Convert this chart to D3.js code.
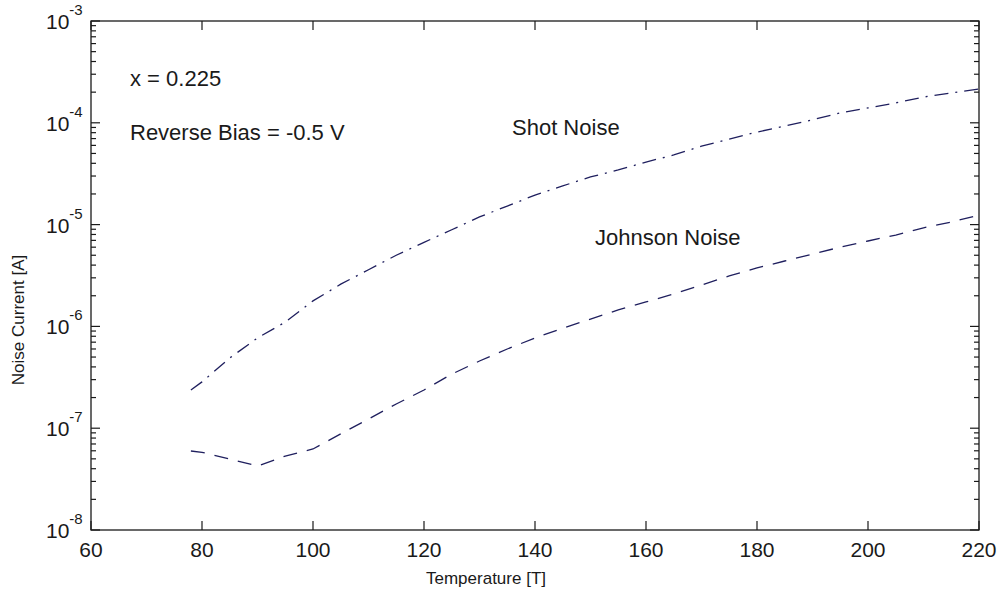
<!DOCTYPE html>
<html>
<head>
<meta charset="utf-8">
<script src="https://cdn.jsdelivr.net/npm/d3@7"></script>
<style>
  body { margin: 0; background: #fff; }
  text { font-family: "Liberation Sans", Arial, sans-serif; fill: #1a1a1a; }
</style>
</head>
<body>
<div id="chart"></div>
<script>
// temperature samples [T]
var temps = [78, 80, 85, 90, 95, 100, 105, 110, 115, 120, 125, 130, 135, 140, 145, 150,
             155, 160, 165, 170, 175, 180, 185, 190, 195, 200, 205, 210, 215, 220];
// noise current [A]
var shotNoise = [2.37e-7, 2.85e-7, 4.9e-7, 7.7e-7, 1.1e-6, 1.78e-6, 2.6e-6, 3.6e-6, 5.0e-6, 6.7e-6,
                 8.9e-6, 1.19e-5, 1.52e-5, 1.95e-5, 2.4e-5, 2.94e-5, 3.44e-5, 4.12e-5, 4.83e-5, 5.9e-5,
                 6.93e-5, 8.1e-5, 9.3e-5, 1.07e-4, 1.25e-4, 1.40e-4, 1.57e-4, 1.79e-4, 1.96e-4, 2.15e-4];
var johnsonNoise = [5.97e-8, 5.8e-8, 4.98e-8, 4.25e-8, 5.33e-8, 6.25e-8, 8.8e-8, 1.23e-7, 1.73e-7, 2.37e-7,
                    3.4e-7, 4.57e-7, 6.0e-7, 7.7e-7, 9.6e-7, 1.18e-6, 1.45e-6, 1.74e-6, 2.08e-6, 2.55e-6,
                    3.13e-6, 3.75e-6, 4.39e-6, 5.14e-6, 6.0e-6, 6.9e-6, 7.9e-6, 9.3e-6, 1.06e-5, 1.24e-5];
var xTicks = [60, 80, 100, 120, 140, 160, 180, 200, 220];
var yExponents = [-8, -7, -6, -5, -4, -3];

(function(){
  var W = 1005, H = 599;
  var pLeft = 91, pRight = 979, pTop = 21, pBottom = 530;
  var lineColor = '#1f1f5e';

  var svg = d3.select('#chart').append('svg').attr('width', W).attr('height', H);

  var x = d3.scaleLinear().domain([60, 220]).range([pLeft, pRight]);
  var y = d3.scaleLog().domain([1e-8, 1e-3]).range([pBottom, pTop]);

  // box
  svg.append('rect')
    .attr('x', pLeft).attr('y', pTop)
    .attr('width', pRight - pLeft).attr('height', pBottom - pTop)
    .attr('fill', 'none').attr('stroke', '#1a1a1a').attr('stroke-width', 1.3);

  // x ticks, inward on bottom and top
  var tickG = svg.append('g').attr('stroke', '#1a1a1a').attr('stroke-width', 1.2);
  xTicks.forEach(function(t){
    tickG.append('line').attr('x1', x(t)).attr('x2', x(t)).attr('y1', pBottom).attr('y2', pBottom - 9);
    tickG.append('line').attr('x1', x(t)).attr('x2', x(t)).attr('y1', pTop).attr('y2', pTop + 9);
    svg.append('text').attr('x', x(t)).attr('y', pBottom + 27)
      .attr('text-anchor', 'middle').attr('font-size', 21).text(t);
  });

  // y ticks: decades and minors, inward on left and right
  yExponents.forEach(function(e, i){
    var v = Math.pow(10, e);
    tickG.append('line').attr('x1', pLeft).attr('x2', pLeft + 9).attr('y1', y(v)).attr('y2', y(v));
    tickG.append('line').attr('x1', pRight).attr('x2', pRight - 9).attr('y1', y(v)).attr('y2', y(v));
    if (i < yExponents.length - 1) {
      for (var m = 2; m <= 9; m++) {
        var mv = m * v;
        tickG.append('line').attr('x1', pLeft).attr('x2', pLeft + 5).attr('y1', y(mv)).attr('y2', y(mv));
        tickG.append('line').attr('x1', pRight).attr('x2', pRight - 5).attr('y1', y(mv)).attr('y2', y(mv));
      }
    }
    var lab = svg.append('text').attr('x', 46).attr('y', y(v) + 8).attr('font-size', 21);
    lab.append('tspan').text('10');
    lab.append('tspan').attr('dy', -14).attr('font-size', 15).text(e);
  });

  // curves
  var line = d3.line()
    .x(function(d){ return x(d[0]); })
    .y(function(d){ return y(d[1]); });

  svg.append('path')
    .datum(temps.map(function(t, i){ return [t, shotNoise[i]]; }))
    .attr('d', line)
    .attr('fill', 'none').attr('stroke', lineColor).attr('stroke-width', 1.3)
    .attr('stroke-dasharray', '14,7,2,7');

  svg.append('path')
    .datum(temps.map(function(t, i){ return [t, johnsonNoise[i]]; }))
    .attr('d', line)
    .attr('fill', 'none').attr('stroke', lineColor).attr('stroke-width', 1.3)
    .attr('stroke-dasharray', '14,10');

  // annotations
  svg.append('text').attr('x', 130).attr('y', 86).attr('font-size', 22).text('x = 0.225');
  svg.append('text').attr('x', 130).attr('y', 140).attr('font-size', 22).text('Reverse Bias = -0.5 V');
  svg.append('text').attr('x', 512).attr('y', 135).attr('font-size', 22).text('Shot Noise');
  svg.append('text').attr('x', 595).attr('y', 245).attr('font-size', 22).text('Johnson Noise');

  // axis labels
  svg.append('text').attr('x', 486).attr('y', 584)
    .attr('text-anchor', 'middle').attr('font-size', 17).text('Temperature [T]');
  svg.append('text')
    .attr('transform', 'translate(24,320) rotate(-90)')
    .attr('text-anchor', 'middle').attr('font-size', 17).text('Noise Current [A]');
})();
</script>
</body>
</html>
